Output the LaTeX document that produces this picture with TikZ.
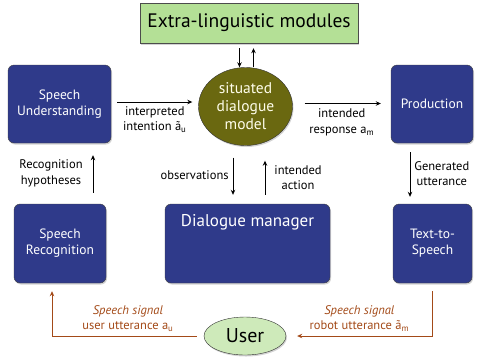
\documentclass[tikz,border=0pt]{standalone}
\usepackage{fontspec}
\setmainfont{PT Sans}
\usetikzlibrary{arrows.meta,shapes.geometric,shadows}

\definecolor{boxblue}{RGB}{47,58,138}
\definecolor{modelolive}{RGB}{106,104,16}
\definecolor{extgreen}{RGB}{180,224,150}
\definecolor{usergreen}{RGB}{206,234,186}
\definecolor{signalbrown}{RGB}{163,74,24}

\tikzset{
  softshadow/.style={drop shadow={shadow xshift=1pt, shadow yshift=-1.5pt, opacity=0.35}},
  module/.style={draw=black!75, fill=boxblue, rounded corners=6pt, text=white,
    align=center, inner sep=0pt, font=\fontsize{13.5}{16}\selectfont, softshadow},
  lbl/.style={align=center, inner sep=1pt, font=\fontsize{12.5}{15.5}\selectfont},
  flow/.style={-{Stealth[length=5pt,width=4.5pt]}, line width=0.8pt},
  signal/.style={flow, draw=signalbrown},
}

\begin{document}
\begin{tikzpicture}[x=1pt,y=-1pt]
  \useasboundingbox (0,0) rectangle (478,360);

  % top row
  \node[draw=black!70, fill=extgreen, minimum width=218pt, minimum height=40pt, softshadow,
        font=\fontsize{19.5}{22}\selectfont] (extra) at (249,23) {Extra-linguistic modules};
  \node[module, minimum width=103pt, minimum height=78pt] (su) at (59.5,104) {Speech\\Understanding};
  \node[ellipse, draw=black!80, fill=modelolive, text=white!92!yellow, align=center, inner sep=0pt,
        minimum width=94pt, minimum height=78pt, softshadow,
        font=\fontsize{15.5}{18}\selectfont] (model) at (245.5,106.5) {situated\\dialogue\\model};
  \node[module, minimum width=82pt, minimum height=78pt] (prod) at (432,104) {Production};

  % bottom row
  \node[module, minimum width=92pt, minimum height=79pt] (sr) at (60,243.5) {Speech\\Recognition};
  \node[module, minimum width=165pt, minimum height=79pt] (dm) at (247.5,243.5) {};
  \node[text=white, anchor=north, font=\fontsize{17}{20}\selectfont] (dmtitle)
        at ([yshift=-7pt]dm.north) {Dialogue manager};
  \node[module, minimum width=79pt, minimum height=79pt] (tts) at (432.5,243.5) {Text-to-\\Speech};
  \node[ellipse, draw=black!80, fill=usergreen, inner sep=0pt, minimum width=82pt, minimum height=38pt,
        softshadow, font=\fontsize{20}{24}\selectfont] (user) at (245,336) {User};

  % links to the extra-linguistic modules
  \draw[flow, shorten <=5pt] ([xshift=-6pt]model.north |- extra.south) -- ([xshift=-6pt]model.north);
  \draw[flow, shorten >=5pt] ([xshift=8pt]model.north) -- ([xshift=8pt]model.north |- extra.south);

  % upper flow
  \draw[flow, shorten <=6pt, shorten >=6pt] ([yshift=2pt]su.east) -- ([yshift=2pt]su.east -| model.west)
    node[lbl, below=3pt, midway] {interpreted\\intention ã\textsubscript{u}};
  \draw[flow, shorten <=12pt, shorten >=10pt] ([yshift=3pt]model.east) -- ([yshift=3pt]model.east -| prod.west)
    node[lbl, below=4pt, midway] {intended\\response a\textsubscript{m}};

  % vertical flows
  \draw[flow, shorten <=11pt, shorten >=12pt] ([xshift=33pt]sr.north) -- ([xshift=33pt]sr.north |- su.south)
    node[lbl, left=9pt, midway] {Recognition\\hypotheses};
  \draw[flow, shorten <=12pt, shorten >=9pt] ([xshift=-12.5pt]model.south) -- ([xshift=-12.5pt]model.south |- dm.north)
    node[lbl, left=3pt, midway] {observations};
  \draw[flow, shorten <=9pt, shorten >=15pt] ([xshift=19.5pt]model.south |- dm.north) -- ([xshift=19.5pt]model.south)
    node[lbl, right=8pt, pos=0.45] {intended\\action};
  \draw[flow, shorten <=9pt, shorten >=7pt] ([xshift=-22pt]prod.south) -- ([xshift=-22pt]prod.south |- tts.north)
    node[lbl, right=3pt, midway] {Generated\\utterance};

  % speech signals
  \draw[signal, shorten <=7pt, shorten >=8pt] (user.west) -| ([xshift=-8pt]sr.south)
    node[lbl, above=3pt, pos=0.25, text=signalbrown] {\textit{Speech signal}\\user utterance a\textsubscript{u}};
  \draw[signal, shorten <=8pt, shorten >=11pt] (tts.south) |- (user.east)
    node[lbl, above=3pt, pos=0.75, text=signalbrown] {\textit{Speech signal}\\robot utterance ã\textsubscript{m}};
\end{tikzpicture}
\end{document}
